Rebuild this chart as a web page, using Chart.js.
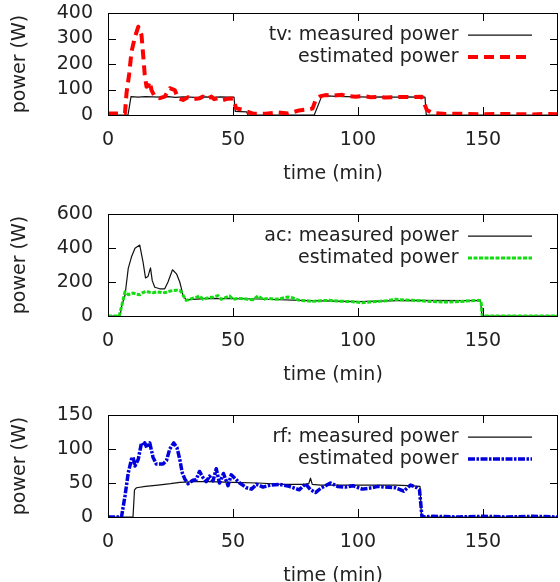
<!DOCTYPE html>
<html>
<head>
<meta charset="utf-8">
<script src="https://cdn.jsdelivr.net/npm/chart.js@4.4.1/dist/chart.umd.min.js"></script>
<style>
  html, body { margin: 0; padding: 0; background: #fff; overflow: hidden; width: 560px; height: 582px; }
  .panel { position: absolute; left: 0; width: 560px; height: 194px; }
</style>
</head>
<body>
<div class="panel" style="top:0px"><canvas id="tv" width="560" height="194"></canvas></div>
<div class="panel" style="top:201px"><canvas id="ac" width="560" height="194"></canvas></div>
<div class="panel" style="top:402px"><canvas id="rf" width="560" height="194"></canvas></div>
<script>
// Shared axis ticks
const xTicks = [0, 50, 100, 150];
const tvTicks = [0, 100, 200, 300, 400];
const acTicks = [0, 200, 400, 600];
const rfTicks = [0, 50, 100, 150];

// TV: measured and estimated power (time in min, power in W)
const tvMeasTime = [0, 8, 9.2, 12, 15, 18, 21, 24, 27, 30, 33, 36, 39, 42, 45, 48, 50.4, 50.9, 55.5, 56, 82.5, 85.5, 88, 91, 95, 100, 105, 110, 115, 120, 124, 126.8, 127.3, 180];
const tvMeasured = [0, 0, 72, 70, 72, 71, 70, 72, 69, 71, 70, 68, 71, 69, 71, 70, 70, 14, 12, 0, 0, 74, 75, 73, 72, 71, 70, 71, 70, 71, 70, 70, 0, 0];
const tvEstTime = [0, 3, 6.8, 7.4, 8.5, 9.4, 10.8, 12.1, 13.4, 14, 14.7, 15.4, 16.1, 16.7, 17.4, 18.7, 20.7, 22.7, 24.7, 26.7, 28, 30, 32, 34, 36.7, 38, 39.5, 41.3, 42.5, 44, 46, 48, 50, 51.3, 54, 58, 63, 68, 72, 76.5, 80, 81.8, 83.1, 85, 87, 90, 93.7, 96, 99, 102, 105, 108, 111, 115, 118, 121.5, 125.5, 127.5, 129.5, 135, 140, 150, 160, 170, 175, 180];
const tvEstimated = [6, 6, 7, 85, 163, 248, 307, 346, 314, 243, 157, 111, 115, 131, 98, 72, 66, 72, 105, 98, 66, 59, 70, 62, 66, 72, 62, 72, 62, 66, 59, 64, 65, 26, 20, 5, 5, 10, 6, 18, 22, 25, 60, 74, 78, 76, 79, 74, 72, 74, 70, 71, 69, 70, 71, 70, 72, 20, 9, 4, 5, 3, 4, 2, 4, 3];

// Air conditioner
const acMeasTime = [0, 4.8, 5.5, 6.8, 8.1, 9.4, 10.8, 12.7, 14, 15, 16, 17, 17.7, 18.7, 20.7, 22.7, 24, 25.8, 27.4, 28.7, 29.4, 30, 31.3, 40, 60, 80, 100, 120, 149, 149.6, 180];
const acMeasured = [0, 0, 60, 122, 280, 348, 398, 417, 319, 224, 233, 283, 208, 169, 160, 160, 200, 272, 248, 200, 160, 120, 95, 104, 100, 90, 84, 92, 90, 0, 0];
const acEstTime = [0, 4.5, 5.8, 6.8, 8.1, 9.2, 10.1, 11.5, 12.7, 14, 15.4, 16.6, 18, 19.4, 20.7, 22, 23.4, 24.7, 26, 27.3, 28.7, 29.4, 30.2, 31.3, 32.6, 34, 35.3, 36.7, 38, 39.3, 40.6, 42.2, 44, 45.3, 46.9, 48.6, 50, 52, 54, 56, 58, 60, 62, 64, 66.5, 68.5, 70.5, 72, 74, 76.5, 79, 81.8, 85, 88.4, 91.5, 95, 98, 101.7, 105, 108.4, 111.5, 115, 118.5, 121.7, 125, 128.3, 131.5, 135, 138.5, 141.6, 145, 148.2, 149.2, 149.7, 155, 160, 165, 170, 175, 180];
const acEstimated = [0, 0, 80, 142, 125, 132, 135, 128, 125, 138, 145, 140, 137, 142, 140, 136, 140, 146, 150, 152, 150, 140, 118, 92, 98, 105, 110, 118, 98, 104, 108, 112, 120, 98, 108, 118, 98, 104, 102, 98, 95, 118, 98, 104, 99, 100, 108, 112, 106, 92, 90, 86, 90, 92, 88, 86, 84, 78, 83, 86, 90, 98, 94, 92, 90, 86, 84, 82, 84, 86, 90, 92, 90, 0, 0, 0, 0, 0, 0, 0];

// Refrigerator
const rfMeasTime = [0, 10, 10.6, 11.4, 15, 20, 25, 28.7, 35, 40, 50, 60, 70, 78, 80.3, 81, 81.7, 85, 95, 105, 115, 120, 124.8, 125.4, 180];
const rfMeasured = [0, 0, 40, 43, 45, 47, 49, 51, 52, 52, 51, 50, 48, 48, 49, 57, 48, 47, 47, 47, 47, 46, 45, 0, 0];
const rfEstTime = [0, 5.4, 6.8, 8.1, 9.4, 10, 10.8, 12.1, 13.4, 14.2, 14.7, 15.5, 16.7, 18, 19.3, 22, 23.4, 24.7, 26.3, 27.6, 28.7, 29.7, 30.7, 32, 34, 35.3, 36.6, 38, 39.3, 40.6, 42, 43.3, 44.6, 46.2, 48, 49.3, 50.7, 52.7, 55.4, 57.4, 59.4, 62, 65, 68.5, 72.5, 76.5, 79, 81, 83, 85, 89, 91.8, 95, 98, 101.7, 105.6, 108, 111, 115, 118.3, 121, 123.6, 124.6, 125.6, 130, 140, 150, 160, 170, 180];
const rfEstimated = [0, 0, 31, 65, 85, 88, 75, 85, 109, 105, 109, 102, 109, 88, 78, 78, 83, 100, 109, 102, 85, 65, 56, 49, 54, 55, 67, 58, 52, 60, 53, 71, 50, 64, 46, 62, 57, 50, 43, 41, 48, 44, 47, 48, 45, 40, 49, 40, 36, 42, 50, 45, 44, 46, 41, 43, 45, 44, 43, 38, 47, 43, 40, 0, 1, 0, 1, 0, 1, 0];

function zip(times, watts) {
  return times.map((t, i) => ({ x: t, y: watts[i] }));
}

const TEXT = '#222';
const TICK_LEN = 8;
Chart.defaults.font.family = "'DejaVu Sans', sans-serif";
Chart.defaults.font.size = 19;
Chart.defaults.color = TEXT;

// Places the key inside the plot frame, top right, inset from the right edge
const legendInset = {
  id: 'legendInset',
  afterLayout(chart, args, opts) {
    const lg = chart.legend;
    const ca = chart.chartArea;
    if (!lg || !ca) return;
    lg.top = ca.top;
    lg.bottom = ca.bottom;
    lg.height = ca.bottom - ca.top;
    lg.right = ca.right - opts.shift;
    lg.left = lg.right - lg.width;
  }
};

// Box around the plot with inward tick marks on all four sides
const frameTicks = {
  id: 'frameTicks',
  afterDraw(chart) {
    const { ctx, chartArea: a, scales } = chart;
    const xs = scales.x, ys = scales.y;
    const l = Math.round(a.left), r = Math.round(a.right) - 1;
    const t = Math.round(a.top), b = Math.round(a.bottom);
    ctx.save();
    ctx.fillStyle = '#000';
    xTicks.forEach(v => {
      const px = Math.round(xs.getPixelForValue(v));
      ctx.fillRect(px, b - TICK_LEN, 1, TICK_LEN + 1);
      ctx.fillRect(px, t, 1, TICK_LEN);
    });
    ys.ticks.forEach(tk => {
      const py = Math.round(ys.getPixelForValue(tk.value));
      ctx.fillRect(l, py, TICK_LEN, 1);
      ctx.fillRect(r - TICK_LEN + 1, py, TICK_LEN, 1);
    });
    ctx.fillRect(l, t, r - l + 1, 1);
    ctx.fillRect(l, b, r - l + 1, 1);
    ctx.fillRect(l, t, 1, b - t + 1);
    ctx.fillRect(r, t, 1, b - t + 1);
    ctx.restore();
  }
};

function tickSetter(values) {
  return scale => { scale.ticks = values.map(v => ({ value: v })); };
}
// fixed axis thickness, no extra label padding around the plot frame
function fixSize(prop, size) {
  return s => {
    s[prop] = size;
    s.paddingTop = 0; s.paddingBottom = 0; s.paddingLeft = 0; s.paddingRight = 0;
  };
}

// legend samples drawn with each series' own stroke and dash pattern
function seriesLabels(chart) {
  const items = Chart.defaults.plugins.legend.labels.generateLabels(chart);
  return items.map(item => {
    const ds = chart.data.datasets[item.datasetIndex];
    return Object.assign(item, {
      strokeStyle: ds.borderColor,
      lineWidth: ds.borderWidth,
      lineDash: ds.borderDash || [],
      lineCap: 'butt',
      pointStyle: 'line'
    });
  });
}

function buildPanel(id, p) {
  const yMax = p.ticks[p.ticks.length - 1];
  new Chart(document.getElementById(id), {
    type: 'line',
    data: {
      datasets: [
        { label: p.name + ': measured power', data: zip(p.measT, p.measW), borderColor: '#111', borderWidth: 1.2, order: 1 },
        { label: 'estimated power', data: zip(p.estT, p.estW), borderColor: p.color, borderWidth: p.width, borderDash: p.dash, order: 0 }
      ]
    },
    options: {
      responsive: false,
      animation: false,
      devicePixelRatio: 1,
      elements: {
        point: { radius: 0, hoverRadius: 0 },
        line: { tension: 0, fill: false, borderCapStyle: 'butt', borderJoinStyle: 'round' }
      },
      layout: { padding: { top: 13, right: 2, bottom: 0, left: 0 } },
      scales: {
        x: {
          type: 'linear', position: 'bottom', min: 0, max: 180,
          afterBuildTicks: tickSetter(xTicks),
          ticks: { padding: 13.6, maxRotation: 0, autoSkip: false },
          grid: { display: false, drawTicks: false },
          border: { display: false },
          title: { display: true, text: 'time (min)', padding: { top: 0, bottom: 8.6 } },
          afterFit: fixSize('height', 79)
        },
        y: {
          type: 'linear', position: 'left', min: 0, max: yMax,
          afterBuildTicks: tickSetter(p.ticks),
          ticks: { padding: 15, autoSkip: false },
          grid: { display: false, drawTicks: false },
          border: { display: false },
          title: { display: true, text: 'power (W)', padding: { top: 8.6, bottom: 0 } },
          afterFit: fixSize('width', 108)
        }
      },
      plugins: {
        legend: {
          position: 'chartArea', align: 'start', rtl: true, textDirection: 'ltr',
          title: { display: true, text: '', padding: 0, font: { size: 8 } },
          labels: {
            usePointStyle: true, pointStyle: 'line', pointStyleWidth: 64, padding: 3, color: TEXT,
            generateLabels: seriesLabels,
            sort: (a, b) => a.datasetIndex - b.datasetIndex
          }
        },
        tooltip: { enabled: false },
        legendInset: { shift: 23 }
      }
    },
    plugins: [legendInset, frameTicks]
  });
}

buildPanel('tv', { name: 'tv', ticks: tvTicks, measT: tvMeasTime, measW: tvMeasured, estT: tvEstTime, estW: tvEstimated, color: '#f00', width: 4, dash: [10, 6] });
buildPanel('ac', { name: 'ac', ticks: acTicks, measT: acMeasTime, measW: acMeasured, estT: acEstTime, estW: acEstimated, color: '#1d1', width: 3, dash: [4, 1.5] });
buildPanel('rf', { name: 'rf', ticks: rfTicks, measT: rfMeasTime, measW: rfMeasured, estT: rfEstTime, estW: rfEstimated, color: '#00d', width: 3.5, dash: [7, 1.5, 2.5, 1.5] });
</script>
</body>
</html>
